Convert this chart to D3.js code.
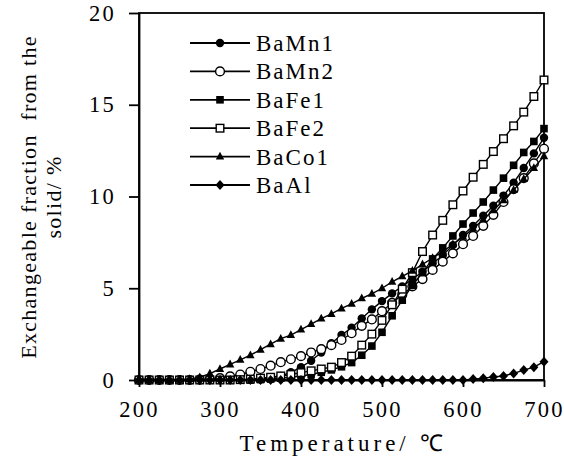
<!DOCTYPE html>
<html><head><meta charset="utf-8">
<script src="https://cdn.jsdelivr.net/npm/d3@7"></script>
<style>
html,body{margin:0;padding:0;background:#fff;}
svg{display:block;}
svg text{font-family:"Liberation Serif","Times New Roman",serif !important;fill:#000;}
</style></head>
<body><svg id="chart" width="564" height="467"></svg>
<script>
const temps = [200,212.5,225,237.5,250,262.5,275,287.5,300,312.5,325,337.5,350,362.5,375,387.5,400,412.5,425,437.5,450,462.5,475,487.5,500,512.5,525,537.5,550,562.5,575,587.5,600,612.5,625,637.5,650,662.5,675,687.5,700];
const seriesNames = ["BaMn1","BaMn2","BaFe1","BaFe2","BaCo1","BaAl"];
const BaMn1 = [0,0,0,0,0,0,0,0,0,0.01,0.02,0.03,0.05,0.12,0.22,0.42,0.7,1.05,1.5,2.0,2.45,2.85,3.35,3.85,4.3,4.72,5.1,5.5,5.9,6.35,6.8,7.35,7.9,8.4,8.95,9.5,10.05,10.75,11.55,12.35,13.2];
const BaMn2 = [0,0,0,0,0,0,0.02,0.05,0.1,0.2,0.3,0.45,0.6,0.78,0.97,1.13,1.3,1.5,1.68,1.9,2.18,2.55,2.95,3.3,3.75,4.2,4.65,5.1,5.5,6.0,6.45,6.9,7.4,7.85,8.4,9.0,9.7,10.4,11.0,11.8,12.6];
const BaFe1 = [0,0,0,0,0,0,0,0,0,0,0,0,0.02,0.05,0.1,0.15,0.22,0.3,0.42,0.55,0.72,0.95,1.35,1.85,2.6,3.5,4.35,5.15,5.85,6.6,7.2,7.85,8.5,9.1,9.7,10.35,11.0,11.7,12.4,13.0,13.7];
const BaFe2 = [0,0,0,0,0,0,0,0,0,0,0.02,0.05,0.1,0.15,0.22,0.3,0.4,0.5,0.6,0.7,0.95,1.3,1.9,2.5,3.25,4.1,4.95,5.85,7.0,7.9,8.7,9.55,10.3,11.05,11.75,12.45,13.15,13.85,14.6,15.45,16.35];
const BaCo1 = [0,0,0,0,0.02,0.05,0.15,0.35,0.6,0.85,1.1,1.35,1.65,1.95,2.25,2.45,2.75,3.05,3.35,3.6,3.9,4.15,4.45,4.7,5.0,5.35,5.65,5.95,6.3,6.65,7.0,7.4,7.8,8.25,8.75,9.25,9.8,10.35,10.95,11.55,12.2];
const BaAl = [0,0,0,0,0,0,0,0,0,0,0,0,0,0,0,0,0,0,0,0,0,0,0,0,0,0,0,0,0,0,0,0,0,0.05,0.1,0.16,0.22,0.36,0.54,0.7,1.0];
const xTicks = [200,300,400,500,600,700];
const yTicks = [0,5,10,15,20];
const xTitle = "Temperature/ ℃";
const yTitle1 = "Exchangeable fraction  from the";
const yTitle2 = "solid/ %";

const seriesValues = [BaMn1,BaMn2,BaFe1,BaFe2,BaCo1,BaAl];
const markers = ["dot","circle","fsquare","osquare","triangle","diamond"];
const FONT = '"Liberation Serif","Times New Roman",serif';

const svg = d3.select("#chart");
const L=139, R=544, T=13, B=380;
const x = d3.scaleLinear().domain([200,700]).range([L,R]);
const y = d3.scaleLinear().domain([0,20]).range([B,T]);

svg.append("rect").attr("x",L).attr("y",T).attr("width",R-L).attr("height",B-T)
  .attr("fill","none").attr("stroke","#000").attr("stroke-width",1.8);

const gx = svg.append("g").attr("transform",`translate(0,${B})`)
  .call(d3.axisBottom(x).tickValues(xTicks).tickSize(7).tickSizeOuter(0).tickPadding(14));
const gy = svg.append("g").attr("transform",`translate(${L},0)`)
  .call(d3.axisLeft(y).tickValues(yTicks).tickSize(10).tickSizeOuter(0).tickPadding(13));
[gx,gy].forEach(g=>{
  g.attr("font-family",FONT);
  g.select(".domain").attr("stroke","#000").attr("stroke-width",1.8);
  g.selectAll(".tick line").attr("stroke","#000").attr("stroke-width",1.8);
  g.selectAll(".tick text").attr("font-size",22.5).attr("letter-spacing","2.2px").style("font-family",FONT);
});

svg.append("text").attr("x",343).attr("y",451).attr("text-anchor","middle").style("font-family",FONT)
  .attr("font-size",23).attr("letter-spacing","4px").text(xTitle);
svg.append("text").attr("transform","translate(36,197) rotate(-90)").attr("text-anchor","middle").style("font-family",FONT)
  .attr("font-size",22).attr("letter-spacing","1.3px").style("white-space","pre").text(yTitle1);
svg.append("text").attr("transform","translate(61,197) rotate(-90)").attr("text-anchor","middle").style("font-family",FONT)
  .attr("font-size",22).attr("letter-spacing","1.3px").text(yTitle2);

function drawMarker(g, type, cx, cy){
  const s = 3.8;
  if(type==="dot") g.append("circle").attr("cx",cx).attr("cy",cy).attr("r",4.2).attr("fill","#000");
  else if(type==="circle") g.append("circle").attr("cx",cx).attr("cy",cy).attr("r",4.4).attr("fill","#fff").attr("stroke","#000").attr("stroke-width",1.4);
  else if(type==="fsquare") g.append("rect").attr("x",cx-s).attr("y",cy-s).attr("width",2*s).attr("height",2*s).attr("fill","#000");
  else if(type==="osquare") g.append("rect").attr("x",cx-s).attr("y",cy-s).attr("width",2*s).attr("height",2*s).attr("fill","#fff").attr("stroke","#000").attr("stroke-width",1.4);
  else if(type==="triangle") g.append("path").attr("d",`M${cx},${cy-4.8}L${cx+4.2},${cy+3}L${cx-4.2},${cy+3}Z`).attr("fill","#000");
  else if(type==="diamond") g.append("path").attr("d",`M${cx},${cy-5}L${cx+4.5},${cy}L${cx},${cy+5}L${cx-4.5},${cy}Z`).attr("fill","#000");
}

const line = d3.line().x(d=>x(d[0])).y(d=>y(d[1]));
seriesValues.forEach((vals,i)=>{
  const pts = temps.map((t,j)=>[t,vals[j]]);
  const g = svg.append("g");
  g.append("path").attr("d",line(pts)).attr("fill","none").attr("stroke","#000").attr("stroke-width",1.4);
  pts.forEach(p=>drawMarker(g, markers[i], x(p[0]), y(p[1])));
});

const legY = d3.scaleLinear().domain([0,5]).range([43,185]);
seriesNames.forEach((n,i)=>{
  const g = svg.append("g");
  const yy = legY(i);
  g.append("line").attr("x1",190).attr("x2",250).attr("y1",yy).attr("y2",yy).attr("stroke","#000").attr("stroke-width",1.8);
  drawMarker(g, markers[i], 220, yy);
  g.append("text").attr("x",256).attr("y",yy+8).style("font-family",FONT).attr("font-size",23).attr("letter-spacing","2px").text(n);
});
</script></body></html>
